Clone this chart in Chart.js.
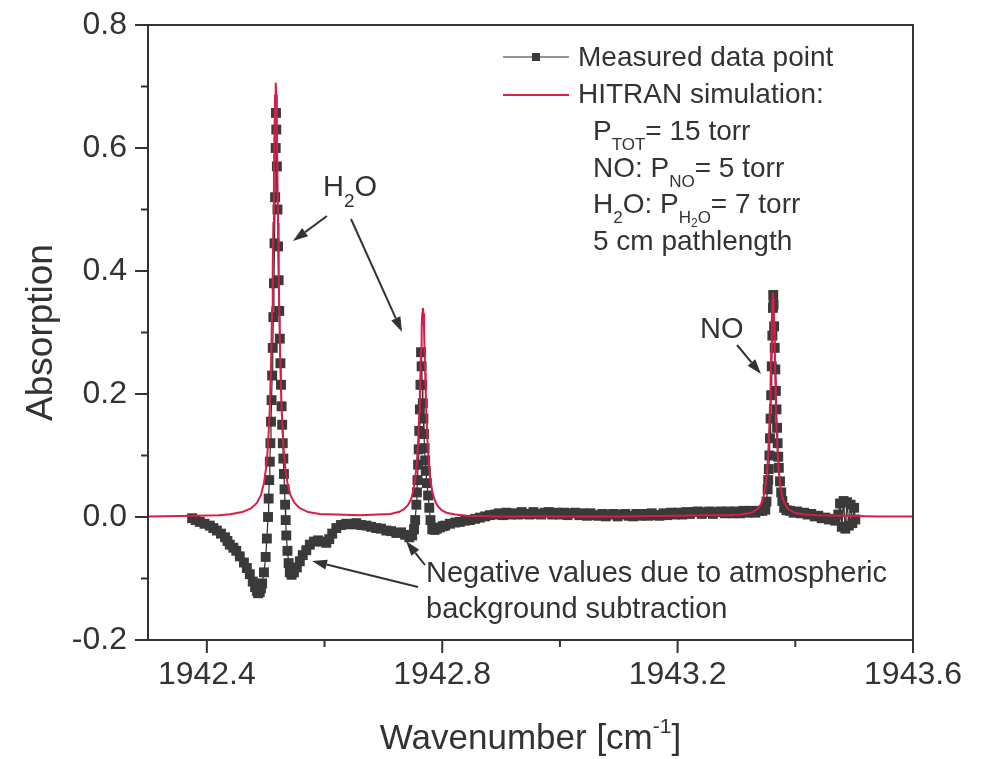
<!DOCTYPE html>
<html lang="en">
<head>
<meta charset="UTF-8">
<title>Absorption spectrum</title>
<script src="https://cdn.jsdelivr.net/npm/chart.js"></script>
<style>
  body { margin: 0; background: #fff; }
  #wrap { width: 988px; height: 759px; }
</style>
</head>
<body>
<div id="wrap"><canvas id="spec" width="988" height="759"></canvas></div>
<script>
// measured data points (wavenumber cm-1, absorption)
const measX = [
  1942.375, 1942.381, 1942.388, 1942.396, 1942.405, 1942.411, 1942.417, 1942.424, 1942.431, 1942.435,
  1942.439, 1942.445, 1942.450, 1942.456, 1942.463, 1942.468, 1942.473, 1942.478, 1942.482, 1942.485,
  1942.487, 1942.490, 1942.492, 1942.494, 1942.497,
  1942.500, 1942.502, 1942.504, 1942.505, 1942.506, 1942.507, 1942.508, 1942.509, 1942.510, 1942.511,
  1942.512, 1942.513, 1942.514, 1942.515, 1942.516, 1942.517, 1942.5175, 1942.518, 1942.519, 1942.520,
  1942.521, 1942.522, 1942.523, 1942.524, 1942.525, 1942.526, 1942.527, 1942.528, 1942.529, 1942.530,
  1942.531, 1942.532, 1942.533, 1942.534, 1942.535, 1942.537, 1942.539, 1942.541,
  1942.544, 1942.548, 1942.553, 1942.558, 1942.563, 1942.569, 1942.575, 1942.582, 1942.589, 1942.596,
  1942.603, 1942.608, 1942.613, 1942.620, 1942.628, 1942.637, 1942.645, 1942.654, 1942.662, 1942.671,
  1942.679, 1942.688, 1942.696, 1942.705, 1942.713, 1942.722, 1942.730, 1942.737, 1942.744, 1942.749,
  1942.752, 1942.754, 1942.756, 1942.757, 1942.758, 1942.759, 1942.760, 1942.761, 1942.762, 1942.763,
  1942.764, 1942.765, 1942.766, 1942.767, 1942.768, 1942.769, 1942.770, 1942.771, 1942.772, 1942.774,
  1942.776, 1942.778, 1942.780, 1942.783,
  1942.787, 1942.791, 1942.796, 1942.801, 1942.805, 1942.813, 1942.822, 1942.830, 1942.839, 1942.847,
  1942.856, 1942.864, 1942.873, 1942.881,
  1942.890, 1942.896, 1942.903, 1942.909, 1942.916, 1942.922, 1942.929, 1942.935, 1942.942, 1942.948,
  1942.955, 1942.961, 1942.968, 1942.974, 1942.981, 1942.987, 1942.994, 1943.000, 1943.007, 1943.013,
  1943.020, 1943.026, 1943.033, 1943.039, 1943.046, 1943.052, 1943.059, 1943.065, 1943.072, 1943.078,
  1943.085, 1943.091, 1943.098, 1943.104, 1943.111, 1943.117, 1943.124, 1943.130, 1943.137, 1943.143,
  1943.150, 1943.156, 1943.163, 1943.169, 1943.176, 1943.182, 1943.189, 1943.195, 1943.202, 1943.208,
  1943.215, 1943.221, 1943.228, 1943.234, 1943.241, 1943.247, 1943.254, 1943.260, 1943.267, 1943.273,
  1943.280, 1943.286, 1943.293, 1943.299, 1943.306, 1943.312, 1943.319, 1943.325, 1943.332, 1943.338,
  1943.344,
  1943.349, 1943.351, 1943.353, 1943.354, 1943.355, 1943.356, 1943.357, 1943.358, 1943.359, 1943.360,
  1943.361, 1943.362, 1943.3625, 1943.363, 1943.364, 1943.365, 1943.366, 1943.367, 1943.368, 1943.369,
  1943.370, 1943.371, 1943.372, 1943.374, 1943.376, 1943.378, 1943.381,
  1943.385, 1943.391, 1943.397, 1943.403, 1943.409, 1943.415, 1943.421, 1943.427, 1943.433, 1943.439,
  1943.445, 1943.451, 1943.457, 1943.463, 1943.468,
  1943.473, 1943.476, 1943.479, 1943.482, 1943.485, 1943.488, 1943.491, 1943.494, 1943.497, 1943.500,
  1943.502
];
const measY = [
  -0.002, -0.005, -0.008, -0.011, -0.014, -0.018, -0.022, -0.027, -0.033, -0.039,
  -0.045, -0.050, -0.055, -0.064, -0.074, -0.083, -0.093, -0.105, -0.114, -0.120,
  -0.124, -0.122, -0.116, -0.108, -0.090,
  -0.065, -0.035, 0.000, 0.030, 0.060, 0.090, 0.120, 0.155, 0.190, 0.230,
  0.275, 0.325, 0.380, 0.445, 0.520, 0.600, 0.657, 0.630, 0.570, 0.500,
  0.440, 0.385, 0.335, 0.290, 0.250, 0.215, 0.180, 0.150, 0.120, 0.095,
  0.070, 0.045, 0.020, -0.005, -0.030, -0.055, -0.075, -0.090,
  -0.094, -0.090, -0.082, -0.072, -0.062, -0.054, -0.045, -0.040, -0.038, -0.040,
  -0.042, -0.036, -0.027, -0.018, -0.013, -0.011, -0.012, -0.010, -0.013, -0.014,
  -0.016, -0.018, -0.019, -0.022, -0.023, -0.026, -0.025, -0.029, -0.033, -0.030,
  -0.020, -0.005, 0.020, 0.040, 0.060, 0.085, 0.110, 0.140, 0.175, 0.215,
  0.268, 0.245, 0.215, 0.185, 0.160, 0.135, 0.112, 0.092, 0.075, 0.055,
  0.035, 0.015, -0.005, -0.020,
  -0.021, -0.019, -0.017, -0.015, -0.014, -0.011, -0.009, -0.008, -0.006, -0.005,
  -0.003, -0.001, 0.001, 0.003,
  0.004, 0.006, 0.003, 0.007, 0.004, 0.006, 0.004, 0.008, 0.005, 0.004,
  0.008, 0.005, 0.004, 0.007, 0.008, 0.004, 0.007, 0.004, 0.007, 0.003,
  0.006, 0.007, 0.003, 0.006, 0.002, 0.006, 0.003, 0.002, 0.005, 0.001,
  0.004, 0.005, 0.001, 0.004, 0.005, 0.002, 0.001, 0.005, 0.002, 0.005,
  0.002, 0.006, 0.003, 0.002, 0.006, 0.003, 0.007, 0.004, 0.007, 0.004,
  0.008, 0.005, 0.008, 0.009, 0.005, 0.008, 0.009, 0.005, 0.008, 0.009,
  0.006, 0.009, 0.006, 0.009, 0.006, 0.010, 0.007, 0.010, 0.007, 0.010,
  0.010,
  0.012, 0.025, 0.045, 0.060, 0.078, 0.100, 0.128, 0.160, 0.198, 0.245,
  0.295, 0.340, 0.361, 0.345, 0.310, 0.275, 0.240, 0.205, 0.175, 0.145,
  0.120, 0.098, 0.080, 0.058, 0.040, 0.026, 0.015,
  0.011, 0.010, 0.007, 0.009, 0.006, 0.007, 0.004, 0.005, 0.001, 0.002,
  -0.002, -0.001, -0.004, -0.003, -0.006,
  0.004, 0.022, -0.016, 0.026, -0.019, 0.024, -0.014, 0.020, -0.010, 0.015,
  -0.004
];

// HITRAN simulation
const simX = [
  1942.300, 1942.380, 1942.420, 1942.440, 1942.460, 1942.475, 1942.485, 1942.492, 1942.497, 1942.501,
  1942.504, 1942.507, 1942.509, 1942.511, 1942.512, 1942.513, 1942.514, 1942.515, 1942.516, 1942.517,
  1942.518, 1942.519, 1942.520, 1942.521, 1942.522, 1942.523, 1942.525, 1942.527, 1942.530, 1942.533,
  1942.537, 1942.542, 1942.549, 1942.557, 1942.572, 1942.592, 1942.620, 1942.660, 1942.690, 1942.712,
  1942.727, 1942.735, 1942.742, 1942.747, 1942.751, 1942.754, 1942.757, 1942.759, 1942.761, 1942.762,
  1942.763, 1942.764, 1942.765, 1942.766, 1942.767, 1942.768, 1942.769, 1942.770, 1942.771, 1942.772,
  1942.773, 1942.775, 1942.777, 1942.780, 1942.783, 1942.787, 1942.792, 1942.799, 1942.807, 1942.822,
  1942.842, 1942.900, 1943.000, 1943.100, 1943.200, 1943.250, 1943.288, 1943.307, 1943.322, 1943.330,
  1943.337, 1943.342, 1943.346, 1943.349, 1943.352, 1943.354, 1943.356, 1943.357, 1943.358, 1943.359,
  1943.360, 1943.361, 1943.362, 1943.363, 1943.364, 1943.365, 1943.366, 1943.367, 1943.368, 1943.370,
  1943.372, 1943.375, 1943.378, 1943.382, 1943.387, 1943.394, 1943.402, 1943.417, 1943.436, 1943.480,
  1943.540, 1943.600
];
const simY = [
  0.001, 0.002, 0.003, 0.0045, 0.008, 0.014, 0.023, 0.036, 0.055, 0.082,
  0.117, 0.178, 0.243, 0.341, 0.405, 0.478, 0.557, 0.631, 0.686, 0.706,
  0.686, 0.631, 0.557, 0.478, 0.405, 0.341, 0.243, 0.178, 0.117, 0.082,
  0.055, 0.036, 0.023, 0.015, 0.008, 0.005, 0.004, 0.003, 0.004, 0.005,
  0.0085, 0.0126, 0.0195, 0.029, 0.043, 0.061, 0.090, 0.122, 0.170, 0.201,
  0.235, 0.272, 0.306, 0.331, 0.340, 0.331, 0.306, 0.272, 0.235, 0.201,
  0.170, 0.122, 0.090, 0.060, 0.042, 0.028, 0.018, 0.011, 0.007, 0.004,
  0.002, 0.001, 0.001, 0.001, 0.002, 0.003, 0.003, 0.004, 0.006, 0.009,
  0.014, 0.0215, 0.0325, 0.047, 0.073, 0.103, 0.150, 0.183, 0.223, 0.268,
  0.315, 0.351, 0.365, 0.351, 0.315, 0.268, 0.223, 0.183, 0.150, 0.103,
  0.073, 0.047, 0.0325, 0.0215, 0.014, 0.009, 0.006, 0.004, 0.003, 0.002,
  0.001, 0.001
];

const xTicks = [1942.4, 1942.8, 1943.2, 1943.6];
const xMinor = [1942.6, 1943.0, 1943.4];
const yTicks = [-0.2, 0.0, 0.2, 0.4, 0.6, 0.8];
const yMinor = [-0.1, 0.1, 0.3, 0.5, 0.7];

const FONT = '"Liberation Sans", Arial, Helvetica, sans-serif';
const INK = '#333333';
const RED = '#d81e48';

Chart.defaults.font.family = FONT;
Chart.defaults.color = INK;

// text with sub/superscripts: parts = [[text, size, dy], ...]
function drawRuns(ctx, x, y, parts) {
    parts.forEach(function (p) {
        ctx.font = p[1] + 'px ' + FONT;
        ctx.fillText(p[0], x, y + (p[2] || 0));
        x += ctx.measureText(p[0]).width;
    });
}

function runsWidth(ctx, parts) {
    let w = 0;
    parts.forEach(function (p) {
        ctx.font = p[1] + 'px ' + FONT;
        w += ctx.measureText(p[0]).width;
    });
    return w;
}

function arrow(ctx, x1, y1, x2, y2) {
    const a = Math.atan2(y2 - y1, x2 - x1);
    const len = 15, half = 5;
    const bx = x2 - len * Math.cos(a), by = y2 - len * Math.sin(a);
    ctx.beginPath();
    ctx.moveTo(x1, y1);
    ctx.lineTo(bx, by);
    ctx.stroke();
    ctx.beginPath();
    ctx.moveTo(x2, y2);
    ctx.lineTo(bx + half * Math.sin(a), by - half * Math.cos(a));
    ctx.lineTo(bx - half * Math.sin(a), by + half * Math.cos(a));
    ctx.closePath();
    ctx.fill();
}

const decorations = {
    id: 'decorations',
    afterDraw(chart) {
        const ctx = chart.ctx;
        const area = chart.chartArea;
        const xs = chart.scales.x, ys = chart.scales.y;
        ctx.save();
        ctx.strokeStyle = INK;
        ctx.fillStyle = INK;

        // frame
        ctx.lineWidth = 2;
        ctx.strokeRect(area.left, area.top, area.right - area.left, area.bottom - area.top);

        // outward ticks
        ctx.beginPath();
        xTicks.forEach(v => { const p = xs.getPixelForValue(v); ctx.moveTo(p, area.bottom); ctx.lineTo(p, area.bottom + 13); });
        xMinor.forEach(v => { const p = xs.getPixelForValue(v); ctx.moveTo(p, area.bottom); ctx.lineTo(p, area.bottom + 7); });
        yTicks.forEach(v => { const p = ys.getPixelForValue(v); ctx.moveTo(area.left, p); ctx.lineTo(area.left - 13, p); });
        yMinor.forEach(v => { const p = ys.getPixelForValue(v); ctx.moveTo(area.left, p); ctx.lineTo(area.left - 7, p); });
        ctx.stroke();

        // axis titles
        ctx.textBaseline = 'alphabetic';
        ctx.textAlign = 'left';
        const xTitle = [['Wavenumber [cm', 35], ['-1', 21, -16], [']', 35]];
        const cx = (area.left + area.right) / 2;
        drawRuns(ctx, cx - runsWidth(ctx, xTitle) / 2, 749, xTitle);

        ctx.save();
        ctx.translate(52, (area.top + area.bottom) / 2);
        ctx.rotate(-Math.PI / 2);
        ctx.textAlign = 'center';
        ctx.font = '37px ' + FONT;
        ctx.fillText('Absorption', 0, 0);
        ctx.restore();

        // legend
        ctx.lineWidth = 1.2;
        ctx.strokeStyle = '#2b2b2b';
        ctx.beginPath(); ctx.moveTo(503, 57); ctx.lineTo(569, 57); ctx.stroke();
        ctx.fillStyle = '#3a3a3a';
        ctx.fillRect(532, 53, 8, 8);
        ctx.strokeStyle = RED;
        ctx.lineWidth = 2;
        ctx.beginPath(); ctx.moveTo(503, 95); ctx.lineTo(569, 95); ctx.stroke();

        ctx.fillStyle = INK;
        ctx.strokeStyle = INK;
        const L = 28, S = 17;
        drawRuns(ctx, 578, 66, [['Measured data point', L]]);
        drawRuns(ctx, 578, 103, [['HITRAN simulation:', L]]);
        drawRuns(ctx, 593, 140, [['P', L], ['TOT', S, 10], ['= 15 torr', L]]);
        drawRuns(ctx, 593, 177, [['NO: P', L], ['NO', S, 10], ['= 5 torr', L]]);
        drawRuns(ctx, 593, 213, [['H', L], ['2', S, 10], ['O: P', L], ['H', S, 10], ['2', 12, 14], ['O', S, 10], ['= 7 torr', L]]);
        drawRuns(ctx, 593, 250, [['5 cm pathlength', L]]);

        // annotations
        drawRuns(ctx, 323, 196, [['H', 29], ['2', 19, 11], ['O', 29]]);
        drawRuns(ctx, 700, 338, [['NO', 29]]);
        drawRuns(ctx, 426, 582, [['Negative values due to atmospheric', 29]]);
        drawRuns(ctx, 426, 618, [['background subtraction', 29]]);

        ctx.lineWidth = 2;
        arrow(ctx, 327, 216, 293, 241);
        arrow(ctx, 351, 219, 402, 332);
        arrow(ctx, 737, 345, 761, 374);
        arrow(ctx, 418, 587, 312, 561);
        arrow(ctx, 425, 565, 406, 541);

        ctx.restore();
    }
};

const measured = measX.map((x, i) => ({ x: x, y: measY[i] }));
const simulated = simX.map((x, i) => ({ x: x, y: simY[i] }));

new Chart(document.getElementById('spec'), {
    type: 'scatter',
    data: {
        datasets: [{
            label: 'HITRAN simulation',
            data: simulated,
            showLine: true,
            borderColor: RED,
            borderWidth: 2,
            pointRadius: 0,
            tension: 0,
            order: 0
        }, {
            label: 'Measured data point',
            data: measured,
            showLine: true,
            borderColor: '#2b2b2b',
            borderWidth: 1.2,
            pointStyle: 'rect',
            pointRadius: 7,
            pointBackgroundColor: '#3a3a3a',
            pointBorderWidth: 0,
            tension: 0,
            order: 1
        }]
    },
    options: {
        responsive: false,
        animation: false,
        layout: { padding: { top: 25, right: 75, left: 0, bottom: 0 } },
        plugins: { legend: { display: false }, tooltip: { enabled: false } },
        scales: {
            x: {
                type: 'linear',
                min: 1942.3,
                max: 1943.6,
                border: { display: false },
                grid: { display: false, drawTicks: false },
                afterBuildTicks: s => { s.ticks = xTicks.map(v => ({ value: v })); },
                afterFit: s => { s.height = 119; s.paddingLeft = 0; s.paddingRight = 0; },
                ticks: {
                    padding: 16,
                    font: { size: 32 },
                    color: INK,
                    maxRotation: 0,
                    autoSkip: false,
                    callback: v => v.toFixed(1)
                }
            },
            y: {
                min: -0.2,
                max: 0.8,
                border: { display: false },
                grid: { display: false, drawTicks: false },
                afterBuildTicks: s => { s.ticks = yTicks.map(v => ({ value: v })); },
                afterFit: s => { s.width = 148; s.paddingTop = 0; s.paddingBottom = 0; },
                ticks: {
                    padding: 21,
                    font: { size: 32 },
                    color: INK,
                    autoSkip: false,
                    callback: v => v.toFixed(1)
                }
            }
        }
    },
    plugins: [decorations]
});
</script>
</body>
</html>
